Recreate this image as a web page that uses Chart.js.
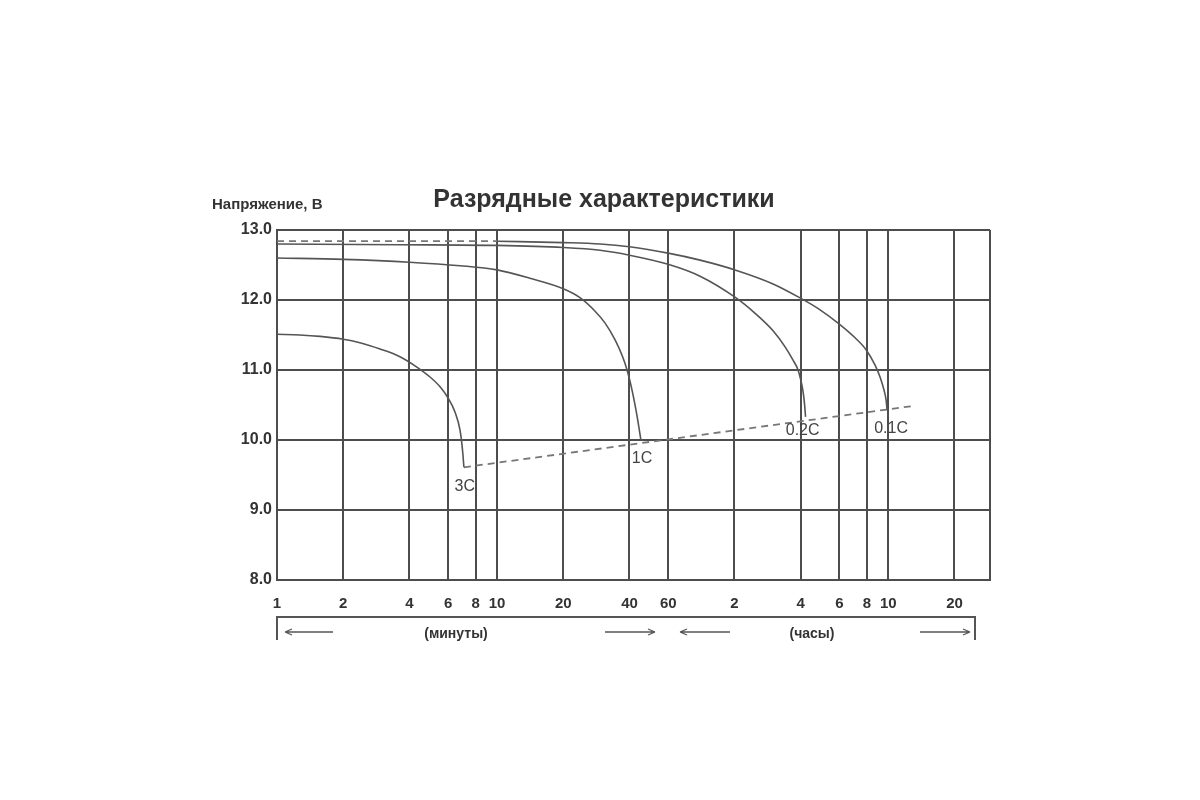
<!DOCTYPE html>
<html>
<head>
<meta charset="utf-8">
<title>Разрядные характеристики</title>
<script src="https://cdn.jsdelivr.net/npm/chart.js@4.4.0/dist/chart.umd.min.js"></script>
<style>
  body { margin: 0; background: #fff; }
  canvas { display: block; }
</style>
</head>
<body>
<canvas id="chart" width="1200" height="800"></canvas>
<script>
// время в минутах (лог. шкала), напряжение в вольтах
const xTickValues = [1, 2, 4, 6, 8, 10, 20, 40, 60, 120, 240, 360, 480, 600, 1200];
const xTickLabels = ["1", "2", "4", "6", "8", "10", "20", "40", "60", "2", "4", "6", "8", "10", "20"];

const t3C = [1, 1.27, 1.57, 2, 2.38, 2.94, 3.62, 4.24, 4.96, 5.51, 5.99, 6.44, 6.79, 6.93, 7.0, 7.07];
const v3C = [11.51, 11.5, 11.48, 11.44, 11.39, 11.3, 11.19, 11.06, 10.9, 10.76, 10.6, 10.4, 10.14, 9.93, 9.79, 9.61];

const t1C = [1, 2, 4, 6.79, 10, 14.1, 20, 23.9, 27.9, 31, 34.4, 37, 39, 41.1, 42.8, 44.2, 45.1];
const v1C = [12.6, 12.58, 12.54, 12.49, 12.43, 12.31, 12.16, 12.03, 11.84, 11.67, 11.43, 11.21, 11.0, 10.71, 10.43, 10.17, 9.99];

const t02C = [1, 3.62, 10, 20, 29.4, 40, 59.9, 83.7, 120.7, 148.9, 179.7, 203.8, 221.5, 233.5, 240.9, 246.0, 249.9, 252.5];
const v02C = [12.8, 12.79, 12.78, 12.75, 12.71, 12.64, 12.51, 12.34, 12.04, 11.81, 11.56, 11.33, 11.14, 11.0, 10.84, 10.69, 10.51, 10.33];

const t01Cdash = [1, 10];
const v01Cdash = [12.84, 12.84];
const t01C = [10, 20, 29.4, 40, 59.9, 83.7, 120.7, 179.7, 238.4, 293.9, 354.8, 423.9, 475.7, 522.7, 550.5, 574.2, 586.6, 592.6];
const v01C = [12.84, 12.82, 12.8, 12.76, 12.67, 12.57, 12.43, 12.23, 12.03, 11.86, 11.67, 11.46, 11.29, 11.07, 10.9, 10.71, 10.57, 10.43];

const tEnd = [7.07, 794];
const vEnd = [9.61, 10.49];

const curveLabels = ["3C", "1C", "0.2C", "0.1C"];
const labelTimes = [7.14, 45.6, 245, 618];
const labelVolts = [9.34, 9.74, 10.14, 10.17];

function pts(ts, vs) { return ts.map((t, i) => ({ x: t, y: vs[i] })); }

const lineColor = '#555';
const gridColor = '#4d4d4d';
const fontFamily = '"Liberation Sans", Arial, sans-serif';

function curve(ts, vs, dash) {
  return {
    data: pts(ts, vs),
    showLine: true,
    borderColor: dash ? '#777' : lineColor,
    borderWidth: dash ? 1.8 : 1.6,
    borderDash: dash ? [7, 5] : [],
    pointRadius: 0,
    cubicInterpolationMode: 'monotone',
    fill: false
  };
}

function arrow(ctx, x1, x2, y) {
  ctx.beginPath();
  ctx.moveTo(x1, y); ctx.lineTo(x2, y);
  const d = x2 > x1 ? -1 : 1;
  ctx.moveTo(x2, y); ctx.lineTo(x2 + d * 7, y - 3);
  ctx.moveTo(x2, y); ctx.lineTo(x2 + d * 7, y + 3);
  ctx.stroke();
}

const decor = {
  id: 'decor',
  afterDraw(chart) {
    const ctx = chart.ctx;
    const a = chart.chartArea;
    const xs = chart.scales.x, ys = chart.scales.y;
    ctx.save();
    // правая граница рамки
    ctx.strokeStyle = gridColor; ctx.lineWidth = 2;
    ctx.beginPath(); ctx.moveTo(a.right, a.top); ctx.lineTo(a.right, a.bottom); ctx.stroke();

    // заголовки
    ctx.fillStyle = '#333';
    ctx.textAlign = 'center'; ctx.textBaseline = 'middle';
    ctx.font = 'bold 25px ' + fontFamily;
    ctx.fillText('Разрядные характеристики', 604, 200);
    ctx.textAlign = 'left';
    ctx.font = 'bold 15px ' + fontFamily;
    ctx.fillText('Напряжение, В', 212, 205);

    // подписи кривых
    ctx.fillStyle = '#444';
    ctx.textAlign = 'center';
    ctx.font = '16px ' + fontFamily;
    curveLabels.forEach((s, i) => {
      ctx.fillText(s, xs.getPixelForValue(labelTimes[i]), ys.getPixelForValue(labelVolts[i]));
    });

    // скобка и стрелки под осью
    const left = xs.getPixelForValue(1), right = 975, by = 617;
    ctx.strokeStyle = '#555'; ctx.lineWidth = 2;
    ctx.beginPath();
    ctx.moveTo(left, 640); ctx.lineTo(left, by); ctx.lineTo(right, by); ctx.lineTo(right, 640);
    ctx.stroke();
    ctx.lineWidth = 1.3;
    arrow(ctx, 333, 285, 632);
    arrow(ctx, 605, 655, 632);
    arrow(ctx, 730, 680, 632);
    arrow(ctx, 920, 970, 632);
    ctx.fillStyle = '#333';
    ctx.font = 'bold 14px ' + fontFamily;
    ctx.fillText('(минуты)', 456, 634);
    ctx.fillText('(часы)', 812, 634);
    ctx.restore();
  }
};

new Chart(document.getElementById('chart'), {
  type: 'scatter',
  data: {
    datasets: [
      curve(t3C, v3C),
      curve(t1C, v1C),
      curve(t02C, v02C),
      curve(t01Cdash, v01Cdash, true),
      curve(t01C, v01C),
      curve(tEnd, vEnd, true)
    ]
  },
  options: {
    responsive: false,
    animation: false,
    layout: { padding: { top: 230, right: 210, left: 0, bottom: 0 } },
    plugins: { legend: { display: false }, tooltip: { enabled: false }, title: { display: false } },
    scales: {
      x: {
        type: 'logarithmic',
        min: 1,
        max: 1740,
        afterBuildTicks: s => { s.ticks = xTickValues.map(v => ({ value: v })); },
        afterFit: s => { s.height = 220; },
        grid: { color: gridColor, lineWidth: 2, drawTicks: false },
        border: { color: gridColor, width: 2 },
        ticks: {
          autoSkip: false,
          maxRotation: 0,
          padding: 15,
          color: '#333',
          font: { family: fontFamily, size: 15, weight: 'bold' },
          callback: (v, i) => xTickLabels[i]
        }
      },
      y: {
        min: 8,
        max: 13,
        afterFit: s => { s.width = 277; },
        grid: { color: gridColor, lineWidth: 2, drawTicks: false },
        border: { color: gridColor, width: 2 },
        ticks: {
          stepSize: 1,
          padding: 5,
          color: '#333',
          font: { family: fontFamily, size: 16, weight: 'bold' },
          callback: v => v.toFixed(1)
        }
      }
    }
  },
  plugins: [decor]
});
</script>
</body>
</html>
